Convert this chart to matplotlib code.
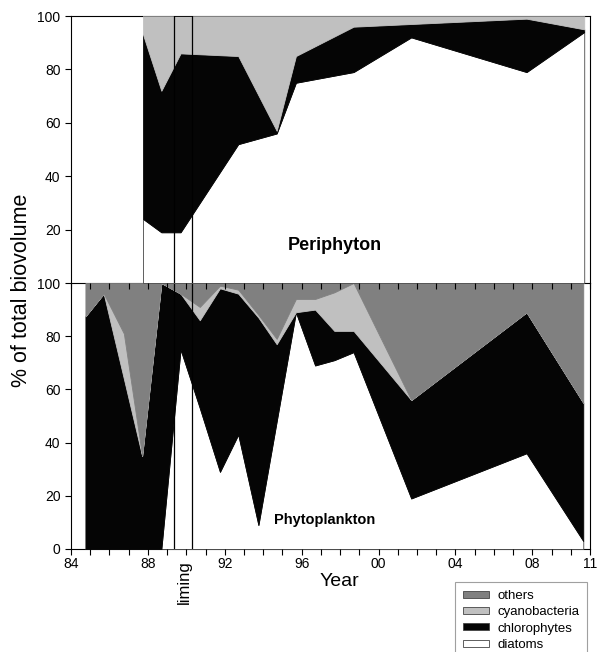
import numpy as np
import matplotlib
matplotlib.use("Agg")
import matplotlib.pyplot as plt
from matplotlib.patches import Patch

plt.rcParams['font.family'] = ['Liberation Sans', 'DejaVu Sans']

# periphyton (top panel), % of total biovolume
peri_years = [1987.75, 1988.7, 1989.7, 1992.7, 1994.7, 1995.7, 1998.7, 2001.7, 2007.7, 2010.7]
peri_diatoms = [24, 19, 19, 52, 56, 75, 79, 92, 79, 94]
peri_chloro = [69, 53, 67, 33, 1, 10, 17, 5, 20, 1]
peri_cyano = [7, 28, 14, 15, 43, 15, 4, 3, 1, 5]
peri_others = [0, 0, 0, 0, 0, 0, 0, 0, 0, 0]

# phytoplankton (bottom panel)
phyto_years = [1984.75, 1985.7, 1986.75, 1987.7, 1988.7, 1989.7, 1990.7, 1991.75, 1992.7,
               1993.75, 1994.7, 1995.7, 1996.7, 1997.7, 1998.7, 2001.7, 2007.7, 2010.65]
phyto_diatoms = [0, 0, 0, 0, 0, 75, 53, 29, 43, 9, 48, 89, 69, 71, 74, 19, 36, 3]
phyto_chloro = [87.5, 96, 64, 35, 100, 21, 33, 69, 53, 78, 29, 0, 21, 11, 8, 37, 53, 52]
phyto_cyano = [0, 0, 17, 0, 0, 0, 5, 1, 1.5, 1, 2, 5, 4, 14.5, 18, 0, 0, 0]
phyto_others = [12.5, 4, 19, 65, 0, 4, 9, 1, 2.5, 12, 21, 6, 6, 3.5, 0, 44, 11, 45]

groups = ['diatoms', 'chlorophytes', 'cyanobacteria', 'others']
colors = ['#ffffff', '#050505', '#c0c0c0', '#808080']
edges = ['#444444', '#050505', '#c0c0c0', '#808080']

liming = [1989.35, 1990.3]

major_years = [1984, 1988, 1992, 1996, 2000, 2004, 2008, 2011]
major_labels = ['84', '88', '92', '96', '00', '04', '08', '11']


def stack(ax, years, series):
    base = np.zeros(len(years))
    for vals, fc, ec in zip(series, colors, edges):
        top = base + np.array(vals, dtype=float)
        ax.fill_between(years, base, top, facecolor=fc, edgecolor=ec, linewidth=0.6)
        base = top


fig = plt.figure(figsize=(6, 6.52), dpi=100)
ax_top = fig.add_axes([71/600, 1-283/652, 519/600, 267/652])
ax_bot = fig.add_axes([71/600, 1-549/652, 519/600, 266/652])
# top panel drawn above so its ticks show over the lower panel
ax_top.set_zorder(2)
ax_top.patch.set_alpha(0)

stack(ax_top, peri_years, [peri_diatoms, peri_chloro, peri_cyano, peri_others])
stack(ax_bot, phyto_years, [phyto_diatoms, phyto_chloro, phyto_cyano, phyto_others])

for ax in (ax_top, ax_bot):
    ax.set_xlim(1984, 2011)
    ax.set_ylim(0, 100)
    ax.set_xticks(major_years)
    ax.set_xticks(np.arange(1984, 2012), minor=True)
    for x in liming:
        ax.axvline(x, color='black', linewidth=0.9, zorder=3)
    for s in ax.spines.values():
        s.set_linewidth(0.8)
        s.set_zorder(0.5)
    ax.tick_params(axis='y', direction='out', length=4, width=0.8, labelsize=10)

ax_top.hlines(100, liming[0], liming[1], color='black', linewidth=1.2, zorder=3)
ax_top.spines['bottom'].set_visible(False)
ax_top.set_yticks([20, 40, 60, 80, 100])
ax_top.tick_params(axis='x', which='both', direction='out', length=4, width=0.8,
                   labelbottom=False)

ax_bot.set_yticks([0, 20, 40, 60, 80, 100])
ax_bot.set_xticklabels(major_labels)
ax_bot.tick_params(axis='x', which='both', direction='out', length=4, width=0.8,
                   labelsize=10, pad=2)

ax_top.text(1997.7, 14, 'Periphyton', fontsize=13, fontweight='bold',
            ha='center', va='center')
ax_bot.text(1997.2, 11, 'Phytoplankton', fontsize=10.5, fontweight='bold',
            ha='center', va='center')

fig.text(184/600, 1-582/652, 'liming', rotation=90, ha='center', va='center', fontsize=12)
fig.text(339/600, 1-581/652, 'Year', ha='center', va='center', fontsize=14)
fig.text(22/600, 1-290/652, '% of total biovolume', rotation=90, ha='center',
         va='center', fontsize=15.5)

handles = [Patch(facecolor=colors[i], edgecolor='#444444', linewidth=0.6, label=groups[i])
           for i in (3, 2, 1, 0)]
leg = fig.legend(handles=handles, loc='upper left', bbox_to_anchor=(455/600, 1-582/652),
                 fontsize=9.5, frameon=True, fancybox=False, edgecolor='#888888',
                 handlelength=2.0, handleheight=0.45, labelspacing=0.33,
                 borderpad=0.6, handletextpad=0.6, borderaxespad=0)
leg.get_frame().set_linewidth(0.8)

fig.savefig('out.png', dpi=100)
